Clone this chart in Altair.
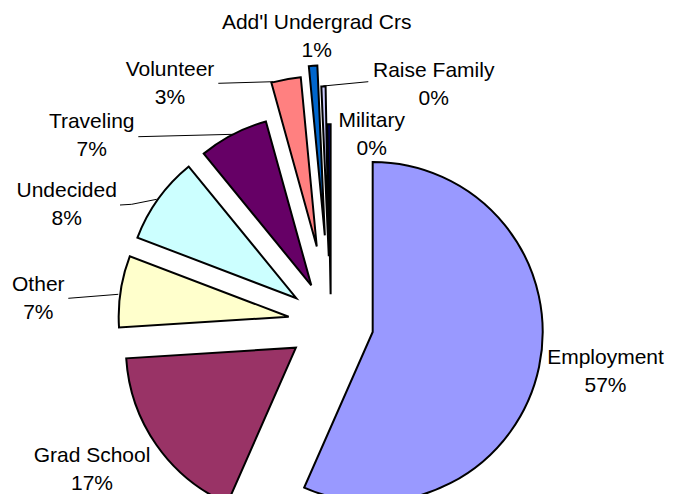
import math
import altair as alt
import pandas as pd

# ---- data ----
categories = ["Employment", "Grad School", "Other", "Undecided", "Traveling",
              "Volunteer", "Add'l Undergrad Crs", "Raise Family", "Military"]
values = [56.6, 17.4, 6.8, 8.3, 6.6, 2.8, 0.8, 0.4, 0.3]

# ---- style / layout ----
colors = ["#9999FF", "#993366", "#FFFFCC", "#CCFFFF", "#660066",
          "#FF8080", "#0066CC", "#CCCCFF", "#000080"]
explode = [42.7, 42.7, 42.7, 42.7, 42.7, 78, 88, 67, 29]
CX, CY = 330.9, 323.2          # pie centre (page pixels)
RADIUS = 170
label_x = [605.5, 92, 38.3, 66.7, 91.7, 170, 316.7, 433.7, 371.7]
label_y = [357.5, 456.0, 284.5, 190.5, 121.5, 69.5, 22.8, 70.5, 120.5]
leaders = {
    "Volunteer": [(218.3, 83.3), (273.3, 81.7)],
    "Raise Family": [(323.3, 86.0), (368.3, 81.7)],
    "Traveling": [(138.3, 136.7), (233.3, 134.3)],
    "Undecided": [(120.0, 205.0), (131.7, 204.3), (156.7, 199.3)],
    "Other": [(68.3, 298.3), (118.3, 294.3)],
}

W, H = 657, 486
df = pd.DataFrame({
    "category": categories,
    "value": values,
    "order": list(range(len(categories))),
    "explode": explode,
    "lx": label_x,
    "ly": label_y,
})
lead_rows = []
for name, pts in leaders.items():
    for i, (px, py) in enumerate(pts):
        lead_rows.append({"leader": name, "i": i, "px": px, "py": py})
lead_df = pd.DataFrame(lead_rows)

xs = alt.Scale(domain=[8, 8 + W], range=[0, W], nice=False, zero=False)
ys = alt.Scale(domain=[8, 8 + H], range=[0, H], nice=False, zero=False)
ts = alt.Scale(domain=[0, 100], range=[0, 2 * math.pi], nice=False, zero=False)
cs = alt.Scale(domain=categories, range=colors)

base = alt.Chart(df)

arcs = (
    base.transform_window(cum="sum(value)", sort=[alt.SortField("order")], frame=[None, 0])
    .transform_calculate(t0="datum.cum - datum.value")
    .transform_calculate(mid="(datum.cum - datum.value / 2) * 2 * PI / 100")
    .transform_calculate(cx=f"{CX} + datum.explode * sin(datum.mid)")
    .transform_calculate(cy=f"{CY} - datum.explode * cos(datum.mid)")
    .mark_arc(radius=RADIUS, stroke="black", strokeWidth=2)
    .encode(
        x=alt.X("cx:Q", scale=xs, axis=None),
        y=alt.Y("cy:Q", scale=ys, axis=None),
        theta=alt.Theta("t0:Q", scale=ts, stack=None),
        theta2="cum:Q",
        color=alt.Color("category:N", scale=cs, legend=None),
        order=alt.Order("order:Q"),
    )
)

names = base.mark_text(font="Liberation Sans", fontSize=21, align="center",
                       baseline="middle", color="black").encode(
    x=alt.X("lx:Q", scale=xs, axis=None),
    y=alt.Y("ly:Q", scale=ys, axis=None),
    text="category:N",
)

pcts = base.transform_calculate(pct="round(datum.value) + '%'").mark_text(
    font="Liberation Sans", fontSize=21, align="center", baseline="middle",
    color="black", dy=28).encode(
    x=alt.X("lx:Q", scale=xs, axis=None),
    y=alt.Y("ly:Q", scale=ys, axis=None),
    text="pct:N",
)

lines = alt.Chart(lead_df).mark_line(color="black", strokeWidth=1).encode(
    x=alt.X("px:Q", scale=xs, axis=None),
    y=alt.Y("py:Q", scale=ys, axis=None),
    detail="leader:N",
    order="i:Q",
)

chart = (
    alt.layer(lines, arcs, names, pcts)
    .properties(width=W, height=H, padding=0, autosize="none")
    .configure_view(stroke=None)
)

chart.save("out.html", embed_options={"renderer": "svg", "actions": False})
